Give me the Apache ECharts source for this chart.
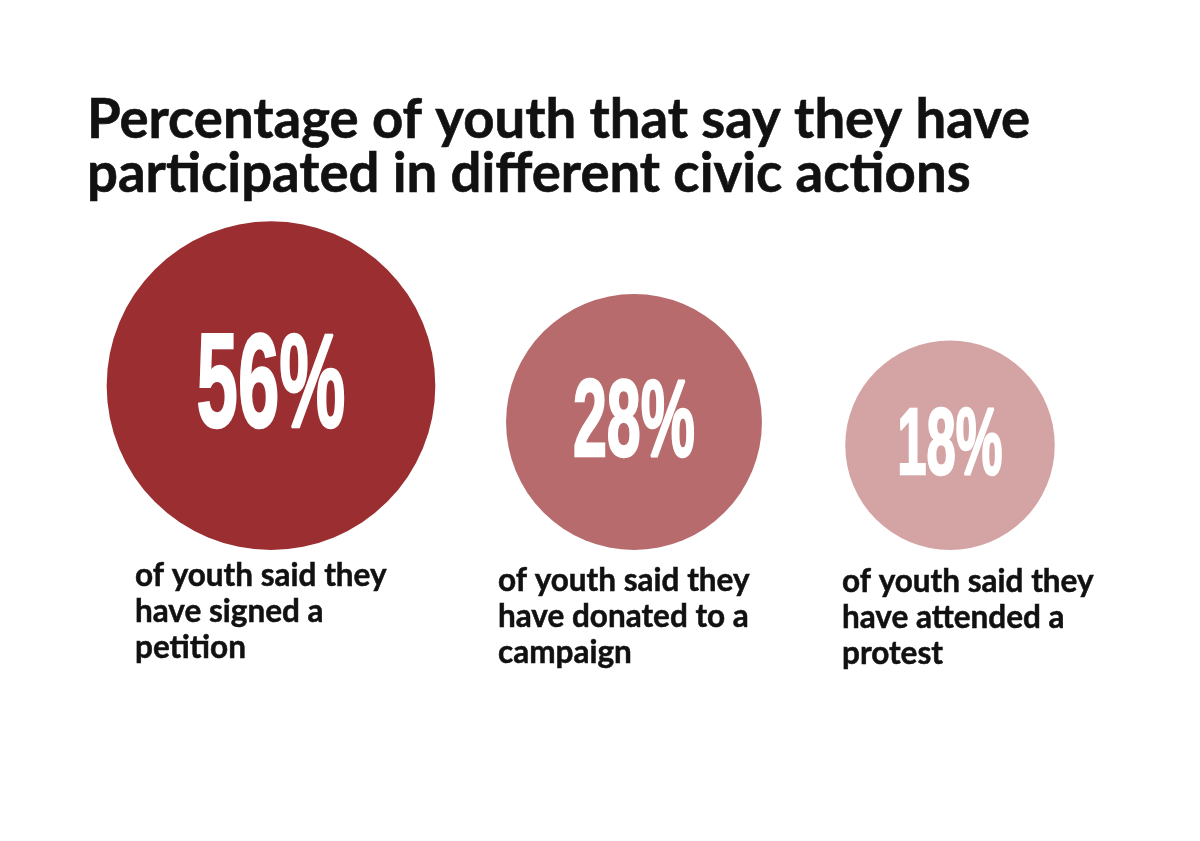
<!DOCTYPE html>
<html>
<head>
<meta charset="utf-8">
<script src="https://cdn.jsdelivr.net/npm/echarts@6/dist/echarts.min.js"></script>
<style>
  html, body { margin: 0; padding: 0; background: #fff; }
  #chart { width: 1200px; height: 841px; }
</style>
</head>
<body>
<div id="chart"></div>
<script>
var titleText = 'Percentage of youth that say they have\nparticipated in different civic actions';
var actions = ['Signed a petition', 'Donated to a campaign', 'Attended a protest'];
var shares = [56, 28, 18];
var captions = [
  'of youth said they\nhave signed a\npetition',
  'of youth said they\nhave donated to a\ncampaign',
  'of youth said they\nhave attended a\nprotest'
];

(function() {
  var colors = ['#9b2e31', '#b86b6c', '#d4a4a5'];
  var ink = '#111111';

  // layout only
  var centreX = [271, 634, 950];
  var captionLeft = [135, 498, 842];
  var captionTop = [558, 563, 564];
  var baseBottom = 841 - 550;

  // bubble diameter from share (hand-tuned to the original)
  function diameter(v) { return -94 + 105 * Math.log(v); }

  function renderItem(params, api) {
    var base = api.coord([api.value(0), 0]);
    var v = api.value(1);
    var d = diameter(v);
    var r = d / 2;
    var cy = base[1] - r;
    var fs = Math.round(0.33 * d + 25);
    return {
      type: 'group',
      children: [
        {
          type: 'circle',
          shape: { cx: base[0], cy: cy, r: r },
          style: { fill: colors[params.seriesIndex] }
        },
        {
          type: 'text',
          x: base[0],
          y: cy + fs * 0.035,
          scaleX: 0.56,
          style: {
            text: v + '%',
            fill: '#fff',
            stroke: '#fff',
            lineWidth: 2.5,
            fontFamily: 'Liberation Sans',
            fontWeight: 'bold',
            fontSize: fs,
            align: 'center',
            verticalAlign: 'middle'
          }
        }
      ]
    };
  }

  var grids = [], xAxes = [], yAxes = [], series = [], titles = [];
  titles.push({
    text: titleText,
    left: 87,
    top: 93,
    padding: 0,
    textStyle: {
      fontFamily: 'Lato', fontWeight: 'bold', fontSize: 54.5, lineHeight: 54, color: ink,
      textBorderColor: ink, textBorderWidth: 0.6
    }
  });
  actions.forEach(function(name, i) {
    grids.push({ left: centreX[i] - 100, width: 200, top: 200, bottom: baseBottom });
    xAxes.push({ type: 'category', gridIndex: i, data: [name], show: false });
    yAxes.push({ type: 'value', gridIndex: i, min: 0, max: 1, show: false });
    series.push({
      name: name,
      type: 'custom',
      xAxisIndex: i,
      yAxisIndex: i,
      data: [[name, shares[i]]],
      renderItem: renderItem
    });
    titles.push({
      text: captions[i],
      left: captionLeft[i],
      top: captionTop[i],
      padding: 0,
      textStyle: {
        fontFamily: 'Lato', fontWeight: 'bold', fontSize: 31.5, lineHeight: 36, color: ink,
        textBorderColor: ink, textBorderWidth: 0.5
      }
    });
  });

  var chart = echarts.init(document.getElementById('chart'), null, { renderer: 'canvas' });
  chart.setOption({
    animation: false,
    backgroundColor: '#fff',
    title: titles,
    grid: grids,
    xAxis: xAxes,
    yAxis: yAxes,
    series: series
  });
  window.addEventListener('resize', function() { chart.resize(); });
})();
</script>
</body>
</html>
